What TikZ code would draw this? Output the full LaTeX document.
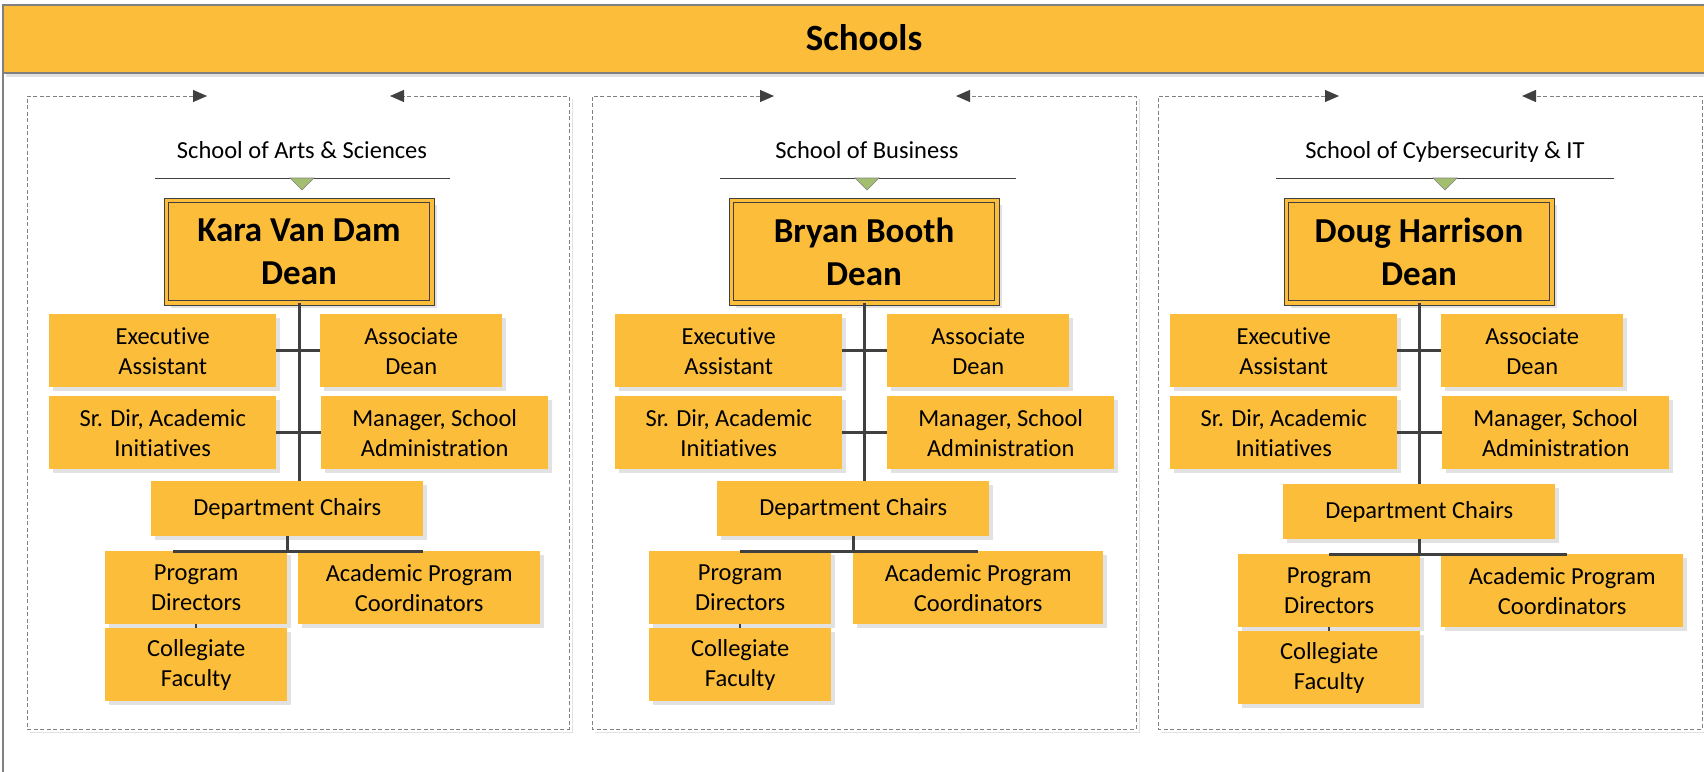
\documentclass[tikz,border=0pt]{standalone}
\usepackage{fontspec}
\setmainfont{Carlito}[Ligatures=NoCommon]
\usetikzlibrary{arrows.meta,shadows,calc}
\definecolor{gold}{HTML}{FCBE3A}
\definecolor{dgray}{HTML}{404040}
\definecolor{mgray}{HTML}{808080}
\definecolor{shadowgray}{HTML}{E2E2E2}
\definecolor{olive}{HTML}{A3BE6E}
\tikzset{
  unit/.style={fill=gold, draw=none, inner sep=0pt, align=center, anchor=north west,
    font=\fontsize{24.5}{30}\selectfont, text=black,
    drop shadow={shadow xshift=4pt, shadow yshift=-4pt, fill=shadowgray, opacity=1}},
  deanbox/.style={fill=gold, draw=dgray, line width=1pt, double=gold, double distance=3.5pt,
    inner sep=0pt, align=center, anchor=north west,
    font=\fontsize{35}{43}\selectfont\bfseries, text=black,
    drop shadow={shadow xshift=5pt, shadow yshift=-5pt, fill=shadowgray, opacity=1}},
  titletext/.style={anchor=base, inner sep=0pt, font=\fontsize{24.5}{30}\selectfont, text=black},
  uline/.style={draw=dgray, line width=1pt},
  marker/.style={fill=olive, draw=mgray, line width=0.6pt},
  link/.style={draw=dgray, line width=3pt},
  tick/.style={draw=dgray, line width=2pt},
  frame/.style={draw=mgray, line width=1pt, dash pattern=on 4pt off 2.5pt},
  tip/.tip={Triangle[length=14pt, width=12pt, color=dgray]},
}
% name, x, y, width, height, text
\newcommand{\ubox}[6]{\node[unit, minimum width=#4pt, minimum height=#5pt] (#1) at (#2,#3) {#6};}
% name, x, y (outer corner), text
\newcommand{\dbox}[4]{\node[deanbox, minimum width=265.5pt, minimum height=102.5pt] (#1) at (#2+2.75,#3+2.75) {#4};}
\begin{document}
\begin{tikzpicture}[x=1pt, y=-1pt]
\useasboundingbox (0,0) rectangle (1704,771);
\clip (0,0) rectangle (1704,771);
\fill[white] (0,0) rectangle (1704,771);
% header
\fill[shadowgray] (6,73) rectangle (1720,77);
\draw[fill=gold, draw=mgray, line width=1.5pt] (3,5) rectangle (1720,73);
\node[anchor=base, inner sep=0pt, font=\fontsize{37}{44}\selectfont\bfseries] (hdr) at (864,50) {Schools};
\draw[mgray, line width=1.5pt] (3,73) -- (3,790);

% dashed frames (with faint shadows)
\foreach \xa/\xb in {27/569, 592/1136, 1158/1702}{
  \draw[draw=shadowgray, line width=1pt] (\xb+3,99) -- (\xb+3,732) -- (\xa+3,732);
}
\draw[frame, tip-tip] (207,96) -- (27,96) -- (27,729) -- (569,729) -- (569,96) -- (390,96);
\draw[frame, tip-tip] (774,96) -- (592,96) -- (592,729) -- (1136,729) -- (1136,96) -- (956,96);
\draw[frame, tip-tip] (1339,96) -- (1158,96) -- (1158,729) -- (1702,729) -- (1702,96) -- (1522,96);

% titles
\node[titletext] (t1) at (302,158) {School of Arts \& Sciences};
\node[titletext] (t2) at (867,158) {School of Business};
\node[titletext] (t3) at (1445,158) {School of Cybersecurity \& IT};
\draw[uline] (155,178) -- (450,178);
\draw[uline] (720,178) -- (1016,178);
\draw[uline] (1276,178) -- (1614,178);
\draw[marker] (290,178) -- (314,178) -- (302,190) -- cycle;
\draw[marker] (855,178) -- (879,178) -- (867,190) -- cycle;
\draw[marker] (1433,178) -- (1457,178) -- (1445,190) -- cycle;

% ---------- School 1 ----------
\dbox{dean1}{163}{197}{Kara Van Dam\\Dean}
\ubox{ea1}{49}{314}{227}{73}{Executive\\Assistant}
\ubox{ad1}{320}{314}{182}{73}{Associate\\Dean}
\ubox{sd1}{49}{396}{227}{73}{Sr. Dir, Academic\\Initiatives}
\ubox{ms1}{321}{396}{227}{73}{Manager, School\\Administration}
\ubox{dc1}{151}{481}{272}{55}{Department Chairs}
\ubox{pd1}{105}{551}{182}{73}{Program\\Directors}
\ubox{apc1}{298}{551}{242}{73}{Academic Program\\Coordinators}
\ubox{cf1}{105}{628}{182}{73}{Collegiate\\Faculty}
\draw[link] (dean1.south) -- (dean1.south |- dc1.north);
\draw[link] (ea1.east) -- (ad1.west);
\draw[link] (sd1.east) -- (ms1.west);
\draw[link] (dc1.south) -- (dc1.south |- pd1.north);
\draw[link] ([xshift=-23pt]pd1.north) -- ([xshift=4pt]apc1.north);
\draw[tick] (pd1.south) -- (cf1.north);

% ---------- School 2 ----------
\dbox{dean2}{728}{197}{Bryan Booth\\Dean}
\ubox{ea2}{615}{314}{227}{73}{Executive\\Assistant}
\ubox{ad2}{887}{314}{182}{73}{Associate\\Dean}
\ubox{sd2}{615}{396}{227}{73}{Sr. Dir, Academic\\Initiatives}
\ubox{ms2}{887}{396}{227}{73}{Manager, School\\Administration}
\ubox{dc2}{717}{481}{272}{55}{Department Chairs}
\ubox{pd2}{649}{551}{182}{73}{Program\\Directors}
\ubox{apc2}{853}{551}{250}{73}{Academic Program\\Coordinators}
\ubox{cf2}{649}{628}{182}{73}{Collegiate\\Faculty}
\draw[link] (dean2.south) -- (dean2.south |- dc2.north);
\draw[link] (ea2.east) -- (ad2.west);
\draw[link] (sd2.east) -- (ms2.west);
\draw[link] (dc2.south) -- (dc2.south |- pd2.north);
\draw[link] (pd2.north) -- (apc2.north);
\draw[tick] (pd2.south) -- (cf2.north);

% ---------- School 3 ----------
\dbox{dean3}{1283}{197}{Doug Harrison\\Dean}
\ubox{ea3}{1170}{314}{227}{73}{Executive\\Assistant}
\ubox{ad3}{1441}{314}{182}{73}{Associate\\Dean}
\ubox{sd3}{1170}{396}{227}{73}{Sr. Dir, Academic\\Initiatives}
\ubox{ms3}{1442}{396}{227}{73}{Manager, School\\Administration}
\ubox{dc3}{1283}{484}{272}{55}{Department Chairs}
\ubox{pd3}{1238}{554}{182}{73}{Program\\Directors}
\ubox{apc3}{1441}{554}{242}{73}{Academic Program\\Coordinators}
\ubox{cf3}{1238}{631}{182}{73}{Collegiate\\Faculty}
\draw[link] (dean3.south) -- (dean3.south |- dc3.north);
\draw[link] (ea3.east) -- (ad3.west);
\draw[link] (sd3.east) -- (ms3.west);
\draw[link] (dc3.south) -- (dc3.south |- pd3.north);
\draw[link] (pd3.north) -- ([xshift=5pt]apc3.north);
\draw[tick] (pd3.south) -- (cf3.north);
\end{tikzpicture}
\end{document}
